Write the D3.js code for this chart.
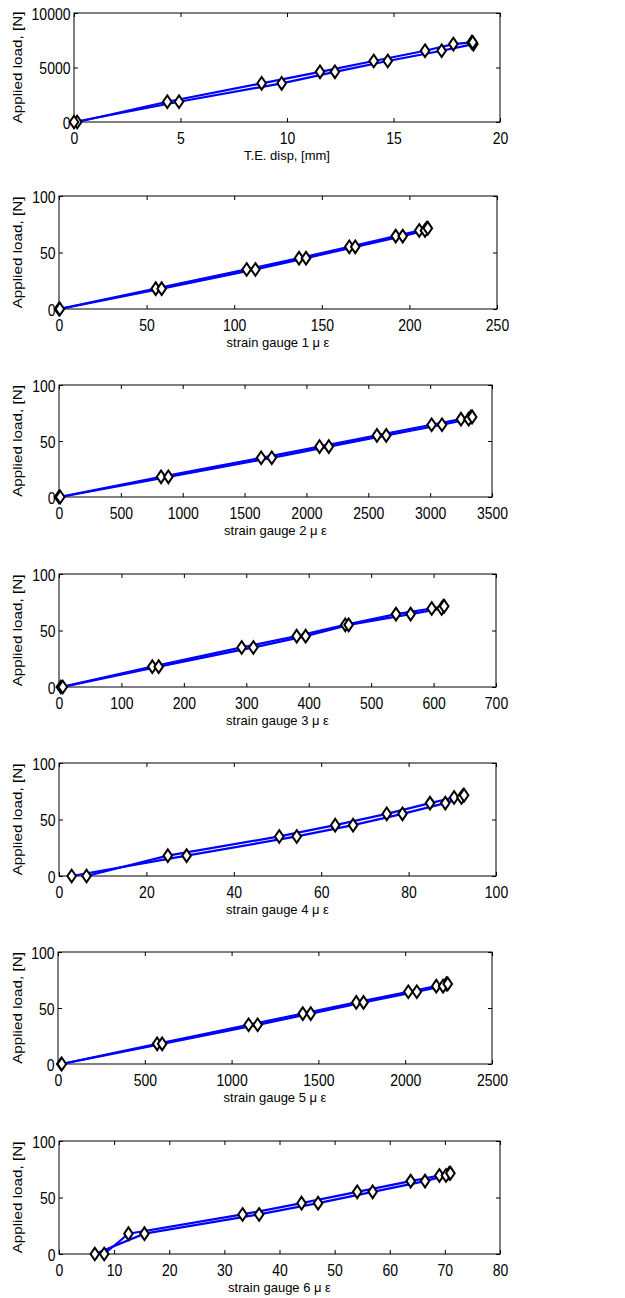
<!DOCTYPE html>
<html>
<head>
<meta charset="utf-8">
<script src="https://cdn.jsdelivr.net/npm/d3@7"></script>
<style>
  body { margin: 0; background: #fff; }
  svg { display: block; }
  text { font-family: "Liberation Sans", Arial, Helvetica, sans-serif; fill: #000; }
</style>
</head>
<body>
<div id="chart"></div>
<script>
// applied load at each step (loading and unloading share the same load levels)
const loadN  = [0, 18, 35, 45, 55, 64.5, 69.5, 71.5];
const loadTE = [0, 1860, 3550, 4600, 5600, 6540, 7150, 7300];

// x readings per load step: "up" = upper branch, "down" = lower branch
const teUp    = [0.15, 4.38, 8.81, 11.55, 14.07, 16.48, 17.81, 18.67];
const teDown  = [0, 4.93, 9.75, 12.25, 14.73, 17.26, 18.75, 18.72];
const sg1Up   = [0, 55.2, 107.1, 137.0, 165.7, 192.2, 205.6, 209.9];
const sg1Down = [0.5, 58.6, 112.1, 141.0, 169.1, 196.2, 208.9, 210.5];
const sg2Up   = [0, 825, 1634, 2106, 2570, 3012, 3249, 3330];
const sg2Down = [10, 884, 1720, 2181, 2645, 3096, 3311, 3340];
const sg3Up   = [3, 149.5, 292.6, 380.7, 458.6, 539.8, 597.0, 615.6];
const sg3Down = [6, 159.7, 311.3, 395.1, 464.0, 563.3, 613.0, 617];
const sg4Up   = [6.3, 24.9, 50.4, 63.2, 75.0, 84.9, 90.4, 92.5];
const sg4Down = [2.9, 29.2, 54.4, 67.3, 78.6, 88.4, 92.1, 92.7];
const sg5Up   = [19, 571, 1098, 1410, 1718, 2018, 2179, 2237];
const sg5Down = [22, 600, 1150, 1456, 1760, 2067, 2218, 2245];
const sg6Up   = [8.2, 12.6, 33.3, 44.0, 54.1, 63.8, 69.0, 70.8];
const sg6Down = [6.5, 15.5, 36.3, 47.0, 56.9, 66.4, 70.2, 71.0];

// axis ticks
const xTicksTE  = [0, 5, 10, 15, 20];
const xTicksSG1 = [0, 50, 100, 150, 200, 250];
const xTicksSG2 = [0, 500, 1000, 1500, 2000, 2500, 3000, 3500];
const xTicksSG3 = [0, 100, 200, 300, 400, 500, 600, 700];
const xTicksSG4 = [0, 20, 40, 60, 80, 100];
const xTicksSG5 = [0, 500, 1000, 1500, 2000, 2500];
const xTicksSG6 = [0, 10, 20, 30, 40, 50, 60, 70, 80];
const yTicksTE  = [0, 5000, 10000];
const yTicksN   = [0, 50, 100];

const xTitles = ["T.E. disp, [mm]", "strain gauge 1 \u03bc \u03b5", "strain gauge 2 \u03bc \u03b5",
  "strain gauge 3 \u03bc \u03b5", "strain gauge 4 \u03bc \u03b5", "strain gauge 5 \u03bc \u03b5",
  "strain gauge 6 \u03bc \u03b5"];
const yTitle = "Applied load, [N]";

const panels = [
  { up: teUp,  down: teDown,  load: loadTE, xTicks: xTicksTE,  yTicks: yTicksTE },
  { up: sg1Up, down: sg1Down, load: loadN,  xTicks: xTicksSG1, yTicks: yTicksN },
  { up: sg2Up, down: sg2Down, load: loadN,  xTicks: xTicksSG2, yTicks: yTicksN },
  { up: sg3Up, down: sg3Down, load: loadN,  xTicks: xTicksSG3, yTicks: yTicksN },
  { up: sg4Up, down: sg4Down, load: loadN,  xTicks: xTicksSG4, yTicks: yTicksN },
  { up: sg5Up, down: sg5Down, load: loadN,  xTicks: xTicksSG5, yTicks: yTicksN },
  { up: sg6Up, down: sg6Down, load: loadN,  xTicks: xTicksSG6, yTicks: yTicksN }
];

// layout: [left, right, top, bottom] of each axes box, in pixels
const boxes = [
  [74, 500, 13, 122],
  [59, 497, 196, 309],
  [59, 492, 385, 497],
  [59, 496, 574, 687],
  [59, 496, 763, 876],
  [58, 492, 952, 1064],
  [59, 500, 1141, 1254]
];

const W = 625, H = 1298;
const SY = 1.22;          // the source figure is stretched vertically
const tickLen = 4;

const svg = d3.select("#chart").append("svg")
  .attr("width", W).attr("height", H);

function diamond(cx, cy) {
  const hw = 4.3, hh = 6.3;
  return `M${cx},${cy - hh}L${cx + hw},${cy}L${cx},${cy + hh}L${cx - hw},${cy}Z`;
}

panels.forEach((p, i) => {
  const [L, R, T, B] = boxes[i];
  const xMax = p.xTicks[p.xTicks.length - 1];
  const yMax = p.yTicks[p.yTicks.length - 1];
  const x = d3.scaleLinear().domain([0, xMax]).range([L, R]);
  const y = d3.scaleLinear().domain([0, yMax]).range([B, T]);
  const g = svg.append("g");

  // inward ticks on all four sides
  const xb = g.append("g").attr("transform", `translate(0,${B})`)
    .call(d3.axisBottom(x).tickValues(p.xTicks).tickSize(-tickLen).tickFormat(d3.format("d")));
  g.append("g").attr("transform", `translate(0,${T})`)
    .call(d3.axisTop(x).tickValues(p.xTicks).tickSize(-tickLen).tickFormat(""));
  const yl = g.append("g").attr("transform", `translate(${L},0)`)
    .call(d3.axisLeft(y).tickValues(p.yTicks).tickSize(-tickLen).tickFormat(d3.format("d")));
  g.append("g").attr("transform", `translate(${R},0)`)
    .call(d3.axisRight(y).tickValues(p.yTicks).tickSize(-tickLen).tickFormat(""));
  g.selectAll(".domain").remove();
  g.selectAll(".tick line").attr("stroke", "#000");

  xb.selectAll("text")
    .attr("y", null).attr("dy", null)
    .attr("transform", `translate(0,21.5) scale(1,${SY})`)
    .style("font-size", "14px").attr("fill", "#000");
  yl.selectAll("text")
    .attr("x", null).attr("dy", "0.36em")
    .attr("transform", `translate(-3.5,0) scale(1,${SY})`)
    .attr("text-anchor", "end")
    .style("font-size", "14px").attr("fill", "#000");

  // axes box
  g.append("rect")
    .attr("x", L).attr("y", T).attr("width", R - L).attr("height", B - T)
    .attr("fill", "none").attr("stroke", "#000").attr("stroke-width", 1);

  // data lines
  const line = d3.line().x(d => x(d[0])).y(d => y(d[1]));
  const upPts = p.up.map((v, k) => [v, p.load[k]]);
  const downPts = p.down.map((v, k) => [v, p.load[k]]);
  [upPts, downPts].forEach(pts => {
    g.append("path").datum(pts)
      .attr("d", line)
      .attr("fill", "none").attr("stroke", "#0000ff").attr("stroke-width", 2.2);
  });

  // diamond markers
  g.selectAll("path.mk")
    .data(upPts.concat(downPts)).join("path").attr("class", "mk")
    .attr("d", d => diamond(x(d[0]), y(d[1])))
    .attr("fill", "#fff").attr("stroke", "#000").attr("stroke-width", 2);

  // axis titles
  g.append("text")
    .attr("transform", `translate(${(L + R) / 2},${B + 38}) scale(1,1.05)`)
    .attr("text-anchor", "middle").style("font-size", "13px")
    .text(xTitles[i]);
  g.append("text")
    .attr("transform", `translate(22,${(T + B) / 2}) scale(1,1.27) rotate(-90)`)
    .attr("text-anchor", "middle").style("font-size", "12px")
    .text(yTitle);
});
</script>
</body>
</html>
